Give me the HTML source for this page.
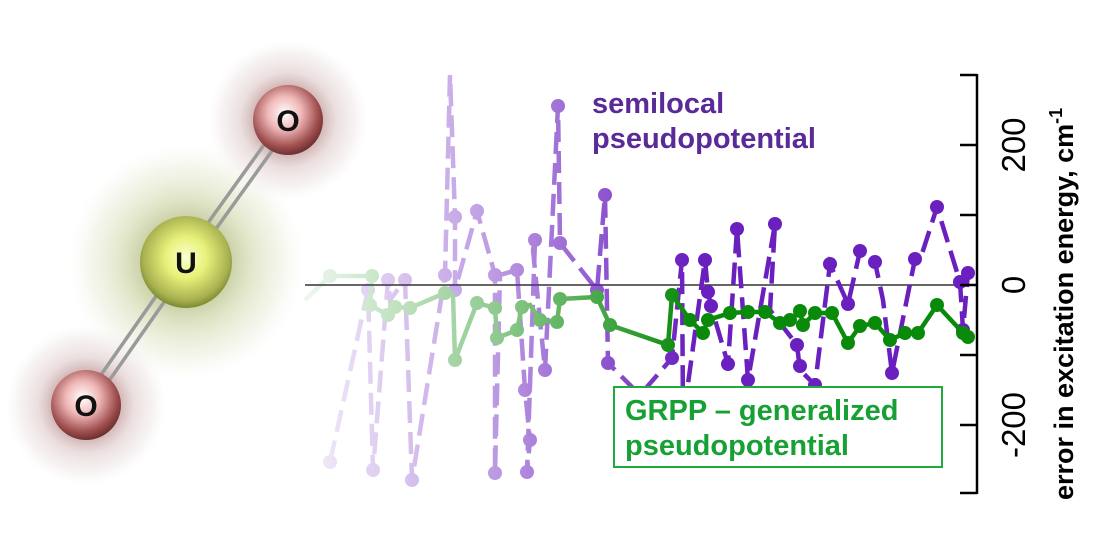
<!DOCTYPE html>
<html><head><meta charset="utf-8"><style>
html,body{margin:0;padding:0;background:#fff}
svg{display:block}
</style></head><body>
<svg width="1100" height="560" viewBox="0 0 1100 560" xmlns="http://www.w3.org/2000/svg">
<defs>
<linearGradient id="fade" x1="300" x2="690" y1="0" y2="0" gradientUnits="userSpaceOnUse">
<stop offset="0" stop-color="#fff" stop-opacity="0.06"/>
<stop offset="0.5" stop-color="#fff" stop-opacity="0.45"/>
<stop offset="1" stop-color="#fff" stop-opacity="1"/>
</linearGradient>
<mask id="m" maskUnits="userSpaceOnUse" x="0" y="0" width="1100" height="560">
<rect x="0" y="0" width="1100" height="560" fill="url(#fade)"/>
</mask>
<radialGradient id="oG" cx="0.45" cy="0.4" r="0.6">
<stop offset="0" stop-color="#fff"/><stop offset="0.4" stop-color="#f0b8b8"/><stop offset="0.8" stop-color="#a05050"/><stop offset="1" stop-color="#703030"/>
</radialGradient>
<radialGradient id="oH" cx="0.5" cy="0.5" r="0.5">
<stop offset="0.45" stop-color="#cfb0b0" stop-opacity="0.85"/><stop offset="0.6" stop-color="#e2d0d0" stop-opacity="0.7"/><stop offset="0.85" stop-color="#f0e8e8" stop-opacity="0.5"/><stop offset="1" stop-color="#f6f2f2" stop-opacity="0"/>
</radialGradient>
<radialGradient id="uG" cx="0.5" cy="0.45" r="0.55">
<stop offset="0" stop-color="#fbffd0"/><stop offset="0.4" stop-color="#e8f27a"/><stop offset="0.85" stop-color="#a8b050"/><stop offset="1" stop-color="#7a8a30"/>
</radialGradient>
<radialGradient id="uH" cx="0.5" cy="0.5" r="0.5">
<stop offset="0.35" stop-color="#c0c898" stop-opacity="0.9"/><stop offset="0.55" stop-color="#d8deb8" stop-opacity="0.75"/><stop offset="0.8" stop-color="#ebeedc" stop-opacity="0.55"/><stop offset="1" stop-color="#f4f5ec" stop-opacity="0"/>
</radialGradient>
</defs>

<!-- molecule -->
<circle cx="86" cy="405" r="80" fill="url(#oH)"/>
<circle cx="288" cy="120" r="80" fill="url(#oH)"/>
<circle cx="186" cy="262" r="118" fill="url(#uH)"/>
<g stroke="#9a9a9a" stroke-width="3.5">
<line x1="82" y1="402" x2="182" y2="259"/><line x1="90" y1="408" x2="190" y2="265"/>
<line x1="182" y1="259" x2="284" y2="117"/><line x1="190" y1="265" x2="292" y2="123"/>
</g>
<circle cx="86" cy="405" r="35" fill="url(#oG)"/>
<circle cx="288" cy="120" r="35" fill="url(#oG)"/>
<circle cx="186" cy="262" r="46" fill="url(#uG)"/>
<g font-family="Liberation Sans, sans-serif" font-weight="bold" font-size="30" text-anchor="middle" fill="#111">
<text x="86" y="416">O</text><text x="288" y="131">O</text><text x="186" y="273">U</text>
</g>

<!-- zero line -->
<line x1="305" y1="285" x2="977" y2="285" stroke="#333" stroke-width="1.5"/>

<g mask="url(#m)">
<polyline fill="none" stroke="#6a1fbf" stroke-width="4.5" stroke-dasharray="22,9" points="330,462 368,290 373,470 388,280 390,300 405,280 412,480 445,275 450,75 455,217 455,290 477,211 495,275 495,473 500,275 517,270 525,390 530,440 527,472 535,240 533,250 545,370 558,106 560,243 597,290 605,195 608,363 640,395 672,358 682,260 683,420 705,260 708,292 711,306 728,364 737,229 748,380 775,224 770,310 797,345 800,370 815,385 830,264 848,304 860,251 875,262 883,300 892,373 915,259 920,260 937,207 960,282 963,330 968,273"/>
<g fill="#6a1fbf">
<circle cx="330" cy="462" r="7"/><circle cx="368" cy="290" r="7"/><circle cx="373" cy="470" r="7"/><circle cx="388" cy="280" r="7"/><circle cx="405" cy="280" r="7"/><circle cx="412" cy="480" r="7"/><circle cx="445" cy="275" r="7"/><circle cx="455" cy="217" r="7"/><circle cx="455" cy="290" r="7"/><circle cx="477" cy="211" r="7"/><circle cx="495" cy="275" r="7"/><circle cx="495" cy="473" r="7"/><circle cx="517" cy="270" r="7"/><circle cx="525" cy="390" r="7"/><circle cx="530" cy="440" r="7"/><circle cx="527" cy="472" r="7"/><circle cx="535" cy="240" r="7"/><circle cx="545" cy="370" r="7"/><circle cx="558" cy="106" r="7"/><circle cx="560" cy="243" r="7"/><circle cx="597" cy="290" r="7"/><circle cx="605" cy="195" r="7"/><circle cx="608" cy="363" r="7"/><circle cx="672" cy="358" r="7"/><circle cx="682" cy="260" r="7"/><circle cx="705" cy="260" r="7"/><circle cx="708" cy="292" r="7"/><circle cx="711" cy="306" r="7"/><circle cx="728" cy="364" r="7"/><circle cx="737" cy="229" r="7"/><circle cx="748" cy="380" r="7"/><circle cx="775" cy="224" r="7"/><circle cx="797" cy="345" r="7"/><circle cx="800" cy="366" r="7"/><circle cx="815" cy="385" r="7"/><circle cx="830" cy="264" r="7"/><circle cx="848" cy="304" r="7"/><circle cx="860" cy="251" r="7"/><circle cx="875" cy="262" r="7"/><circle cx="892" cy="373" r="7"/><circle cx="915" cy="259" r="7"/><circle cx="937" cy="207" r="7"/><circle cx="960" cy="282" r="7"/><circle cx="963" cy="330" r="7"/><circle cx="968" cy="273" r="7"/>
</g>
<polyline fill="none" stroke="#0a8a0a" stroke-width="4.5" points="305,300 330,276 372,276 370,305 388,315 395,307 410,308 445,293 453,295 455,360 477,303 495,308 497,338 517,330 522,307 530,305 540,320 557,322 560,299 597,297 610,325 668,345 672,295 690,320 703,333 708,320 730,313 748,312 765,312 780,323 790,320 800,311 803,325 815,313 832,313 848,343 860,326 875,323 890,340 905,333 918,333 937,305 963,333 968,337"/>
<g fill="#0a8a0a">
<circle cx="330" cy="276" r="7"/><circle cx="372" cy="276" r="7"/><circle cx="370" cy="305" r="7"/><circle cx="388" cy="315" r="7"/><circle cx="395" cy="307" r="7"/><circle cx="410" cy="308" r="7"/><circle cx="445" cy="293" r="7"/><circle cx="455" cy="360" r="7"/><circle cx="477" cy="303" r="7"/><circle cx="495" cy="308" r="7"/><circle cx="497" cy="338" r="7"/><circle cx="517" cy="330" r="7"/><circle cx="522" cy="307" r="7"/><circle cx="540" cy="320" r="7"/><circle cx="557" cy="322" r="7"/><circle cx="560" cy="299" r="7"/><circle cx="597" cy="297" r="7"/><circle cx="610" cy="325" r="7"/><circle cx="668" cy="345" r="7"/><circle cx="672" cy="295" r="7"/><circle cx="690" cy="320" r="7"/><circle cx="703" cy="333" r="7"/><circle cx="708" cy="320" r="7"/><circle cx="730" cy="313" r="7"/><circle cx="748" cy="312" r="7"/><circle cx="765" cy="312" r="7"/><circle cx="780" cy="323" r="7"/><circle cx="790" cy="320" r="7"/><circle cx="800" cy="311" r="7"/><circle cx="803" cy="325" r="7"/><circle cx="815" cy="313" r="7"/><circle cx="832" cy="313" r="7"/><circle cx="848" cy="343" r="7"/><circle cx="860" cy="326" r="7"/><circle cx="875" cy="323" r="7"/><circle cx="890" cy="340" r="7"/><circle cx="905" cy="333" r="7"/><circle cx="918" cy="333" r="7"/><circle cx="937" cy="305" r="7"/><circle cx="963" cy="333" r="7"/><circle cx="968" cy="337" r="7"/>
</g>
</g>

<!-- GRPP box -->
<rect x="614" y="387" width="328" height="80" fill="#fff" stroke="#1faa3c" stroke-width="2"/>
<g font-family="Liberation Sans, sans-serif" font-weight="bold" font-size="29" fill="#17a033">
<text x="625" y="420">GRPP – generalized</text>
<text x="625" y="455">pseudopotential</text>
</g>
<g font-family="Liberation Sans, sans-serif" font-weight="bold" font-size="29" fill="#5a2a98">
<text x="592" y="113">semilocal</text>
<text x="592" y="148">pseudopotential</text>
</g>

<!-- axis -->
<g stroke="#000" stroke-width="2.5">
<line x1="977" y1="74" x2="977" y2="494"/>
<line x1="960" y1="75" x2="977" y2="75"/><line x1="960" y1="145" x2="977" y2="145"/><line x1="960" y1="215" x2="977" y2="215"/><line x1="960" y1="285" x2="977" y2="285"/><line x1="960" y1="355" x2="977" y2="355"/><line x1="960" y1="425" x2="977" y2="425"/><line x1="960" y1="493" x2="977" y2="493"/>
</g>
<g font-family="Liberation Sans, sans-serif" font-size="33" fill="#000" text-anchor="middle">
<text transform="translate(1025,145) rotate(-90)">200</text>
<text transform="translate(1025,285) rotate(-90)">0</text>
<text transform="translate(1025,425) rotate(-90)">-200</text>
</g>
<text transform="translate(1073,500) rotate(-90)" font-family="Liberation Sans, sans-serif" font-weight="bold" font-size="27" fill="#000">error in excitation energy, cm<tspan dy="-11" font-size="18">-1</tspan></text>
</svg>
</body></html>
